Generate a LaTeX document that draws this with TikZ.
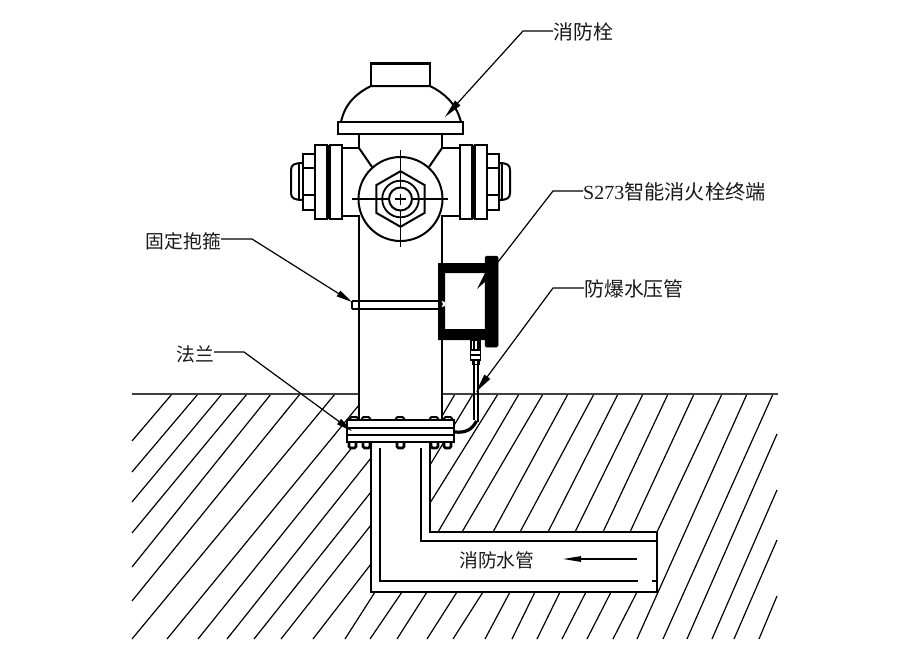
\documentclass[tikz,border=0pt]{standalone}
\usepackage{fontspec}
\setmainfont{Noto Sans CJK SC}
\newfontfamily\latinlbl{Liberation Serif}
\usetikzlibrary{arrows.meta}
\tikzset{
  lbl/.style={anchor=west,inner sep=0pt,font=\fontsize{19.9}{20}\selectfont,text=black!90},
  lbl small/.style={lbl,font=\fontsize{18.8}{20}\selectfont},
  hatchline/.style={line width=1.2pt,black},
  ground/.style={line width=1.1pt,black!75},
  part/.style={line width=2pt,fill=white,line join=miter},
  heavy/.style={line width=2.5pt},
  center line/.style={line width=1.6pt},
  bolt/.style={line width=2pt,fill=white,rounded corners=1.5pt},
  leader/.style={line width=1.2pt,-{Stealth[length=19pt,width=7pt,inset=0pt]}},
  solid black/.style={fill=black,draw=black,line width=.5pt},
}
\begin{document}
\begin{tikzpicture}[x=1pt,y=-1pt]
\useasboundingbox (0,0) rectangle (900,659);
\fill[white] (0,0) rectangle (900,659);
% ground hatching
\foreach \ax/\ay/\bx/\by in {
 172/394/132/441,198/394/132/472,222/394/132/502,247/394/132/533,271/394/132/567,
 300/394/132/601,335/394/132/639,167/639/359/405,198/639/358/440,227/639/371/458,
 254/639/371/492,281/639/371/525,313/639/371/564,
 345/639/375/592,370/639/402/592,397/639/427/592,427/639/457/592,453/639/483/592,
 485/639/510/592,512/639/535/592,537/639/560/592,562/639/586/592,587/639/611/592,613/639/637/592,
 455/394/441/418,473/394/430/465,498/394/430/503,519/394/438/532,543/394/462/532,
 568/394/493/532,594/394/520/532,618/394/548/532,643/394/575/532,668/394/603/532,
 694/394/630/532,722/394/657/532,747/394/637/639,773/394/663/639,777/434/687/639,
 777/490/712/639,777/540/734/639,777/596/759/639}
 {\draw[hatchline] (\ax,\ay) -- (\bx,\by);}
\draw[ground] (132,394) -- (778,394);
% buried pipe
\draw[part] (371,442) -- (371,592) -- (657,592) -- (657,532) -- (430,532) -- (430,442);
\draw[heavy] (380,448) -- (380,581) -- (638,581);
\draw[heavy] (421,448) -- (421,541) -- (657,541);
\draw[line width=1.2pt] (652,581) -- (657,581);
\draw[line width=1.1pt,-{Stealth[length=18pt,width=5.5pt,inset=0pt]}] (637,559) -- (563,559);
% hydrant body
\draw[part] (359,134) -- (359,148) -- (342,148) -- (342,216) -- (359,216) -- (359,420) -- (442,420) -- (442,216) -- (460,216) -- (460,148) -- (442,148) -- (442,134) -- cycle;
\draw[part] (371,86) -- (371,63) -- (430,63) -- (430,86);
\draw[line width=3.5pt] (371,63.5) -- (430,63.5);
\draw[part] (341,122) .. controls (345,103) and (357,93) .. (371,86) -- (430,86) .. controls (444,93) and (456,103) .. (461,122) -- cycle;
\draw[part] (338,122) rectangle (463,134);
\draw[line width=2pt] (359,148) -- (372,167) (442,148) -- (429,167);
% side outlets
\draw[part] (291,170) .. controls (291,165) and (294,163) .. (303,163) -- (303,200) .. controls (294,200) and (291,198) .. (291,193) -- cycle;
\draw[line width=1.4pt] (299,164) -- (299,199);
\draw[part] (510,170) .. controls (510,165) and (507,163) .. (499,163) -- (499,200) .. controls (507,200) and (510,198) .. (510,193) -- cycle;
\draw[line width=1.4pt] (502,164) -- (502,199);
\draw[part] (303,154) rectangle (315,210);
\draw[line width=1.6pt] (303,168) -- (315,168) (303,195) -- (315,195);
\draw[part] (487,154) rectangle (499,210);
\draw[line width=1.6pt] (487,168) -- (499,168) (487,195) -- (499,195);
\draw[part] (315,145) rectangle (327,219);
\draw[part] (330,145) rectangle (342,219);
\fill (327,145) rectangle (330,219);
\draw[part] (460,145) rectangle (472,219);
\draw[part] (475,145) rectangle (487,219);
\fill (472,145) rectangle (475,219);
% front outlet
\draw[part] (400.5,199) circle (42);
\draw[part] (400.5,171.2) -- (424.6,185.1) -- (424.6,212.9) -- (400.5,226.8) -- (376.4,212.9) -- (376.4,185.1) -- cycle;
\draw[line width=1.8pt] (400.5,199) circle (18.3);
\draw[center line] (352,199) -- (448,199) (400.5,150) -- (400.5,247);
\draw[line width=2pt,fill=white] (400.5,199) circle (11.5);
\draw[center line] (395,199) -- (406,199) (400.5,193.5) -- (400.5,204.5);
% clamp
\draw[line width=1.3pt] (352,309) -- (439,309) (352,301) -- (352,309);
\draw[line width=2.2pt] (352,301) -- (439,301);
% flange
\foreach \bx in {350,362,396,430,444}{
  \draw[bolt] (\bx,420) -- (\bx,417) -- (\bx+8,417) -- (\bx+8,420);
}
\foreach \bx in {349,363,397,431,444}{
  \draw[bolt,line width=2.6pt] (\bx,442) -- (\bx,448) -- (\bx+7,448) -- (\bx+7,442);
}
\draw[part] (347,420) rectangle (454,442);
\draw[line width=1.6pt] (347,428) -- (454,428);
\draw[line width=2.8pt] (347,435) -- (454,435);
% pressure tube
\draw[line width=1.4pt] (474,362) -- (474,420) (478,362) -- (478,422);
\draw[line width=3.2pt] (476.5,421) .. controls (472,430) and (465,433) .. (455,432);
\draw[line width=1.4pt,fill=white] (471,340) rectangle (480,350);
\draw[line width=1.8pt] (474,340) -- (474,350) (478,340) -- (478,350);
\draw[line width=1.7pt,fill=white] (470.5,350) rectangle (480.5,360);
\draw[line width=1.4pt] (470.5,355) -- (480.5,355);
\fill (471.5,360) rectangle (479.5,365);
\fill[white] (474.5,361) rectangle (477,364);
% terminal box
\fill[black,even odd rule] (438,263) rectangle (487,340) (445,273) rectangle (485,329);
\fill[white] (441.5,301) -- (445,302) -- (445,306) -- (441.5,307) -- (443,304) -- cycle;
\draw[solid black,rounded corners=1.5pt] (485,256) rectangle (498,347);
% labels
\node[lbl] (hydrant) at (553,32) {消防栓};
\node[lbl,font=\fontsize{20.2}{20}\selectfont] (terminal) at (583,192) {{\latinlbl\fontsize{20}{20}\selectfont S273}智能消火栓终端};
\node[lbl] (tube) at (584,289) {防爆水压管};
\node[lbl small,anchor=east] (clamp) at (221,241) {固定抱箍};
\node[lbl small,anchor=east] (flange) at (214,354) {法兰};
\node[lbl small] (water) at (459,560) {消防水管};
% leaders
\coordinate (hydrantbend) at (523,31);   \coordinate (hydranttip) at (445,117);
\coordinate (terminalbend) at (553,191); \coordinate (terminaltip) at (477,289);
\coordinate (tubebend) at (553,288);     \coordinate (tubetip) at (476,392);
\coordinate (clampbend) at (252,239);    \coordinate (clamptip) at (352,302);
\coordinate (flangebend) at (244,352);   \coordinate (flangetip) at (352,431);
\draw[leader] (hydrant.west) ++(0,-1) -- (hydrantbend) -- (hydranttip);
\draw[leader] (terminal.west) ++(0,-1) -- (terminalbend) -- (terminaltip);
\draw[leader] (tube.west) ++(0,-1) -- (tubebend) -- (tubetip);
\draw[leader,-{Stealth[length=16pt,width=6.5pt,inset=0pt]}] (clamp.east) ++(0,-2) -- (clampbend) -- (clamptip);
\draw[leader,-{Stealth[length=16pt,width=6.5pt,inset=0pt]}] (flange.east) ++(0,-2) -- (flangebend) -- (flangetip);
\end{tikzpicture}
\end{document}
